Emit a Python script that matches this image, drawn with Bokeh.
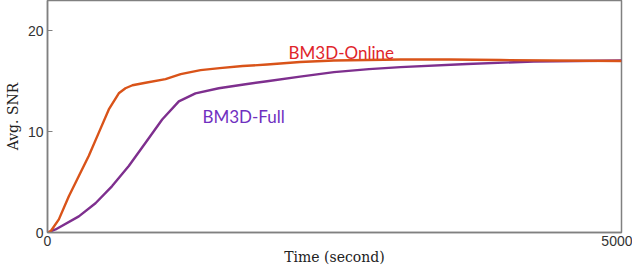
from bokeh.plotting import figure
from bokeh.embed import file_html
from bokeh.resources import INLINE
from bokeh.models import FixedTicker, Range1d
from bokeh.core.properties import value

online_t = [0, 26, 99, 186, 273, 360, 447, 534, 621, 679, 740, 854, 1028, 1160, 1333, 1500, 1700, 1913, 2200, 2495, 3075, 3500, 3946, 4382, 5000]
online_snr = [0, 0.1, 1.3, 3.6, 5.6, 7.6, 9.9, 12.2, 13.8, 14.3, 14.6, 14.85, 15.2, 15.7, 16.1, 16.3, 16.5, 16.65, 16.9, 17.05, 17.15, 17.15, 17.1, 17.05, 17.0]
full_t = [0, 70, 273, 418, 563, 708, 854, 999, 1144, 1289, 1492, 1725, 1913, 2200, 2495, 2800, 3075, 3656, 4234, 5000]
full_snr = [0, 0.3, 1.6, 2.9, 4.6, 6.6, 8.9, 11.2, 13.0, 13.8, 14.3, 14.7, 15.0, 15.45, 15.9, 16.2, 16.4, 16.7, 16.95, 17.05]
x_ticks = [0, 5000]
y_ticks = [0, 10, 20]
labels = ["BM3D-Online", "BM3D-Full"]

p = figure(width=632, height=267, output_backend="svg", toolbar_location=None,
           x_range=Range1d(0, 5000), y_range=Range1d(0, 23),
           min_border_left=47, min_border_right=11, min_border_top=0, min_border_bottom=34)
p.grid.visible = False
p.outline_line_color = "#808080"
p.outline_line_width = 1.5
p.background_fill_color = "white"
p.border_fill_color = "white"

p.line(full_t, full_snr, line_color="#7e2f8e", line_width=2.4, line_join="round")
p.line(online_t, online_snr, line_color="#d95319", line_width=2.4, line_join="round")

p.text(x=[2100], y=[17.8], text=[labels[0]], text_color="#e0252b", text_font=value("Lato"),
       text_font_size="17px", text_baseline="alphabetic")
p.text(x=[1350], y=[11.5], text=[labels[1]], text_color="#7030c0", text_font=value("Lato"),
       text_font_size="17px", text_baseline="alphabetic")

for ax in (p.xaxis[0], p.yaxis[0]):
    ax.axis_line_color = "#808080"
    ax.axis_line_width = 1.5
    ax.major_tick_in = 5
    ax.major_tick_out = 0
    ax.minor_tick_line_color = None
    ax.major_tick_line_color = "#808080"
    ax.major_label_text_font = "Liberation Sans"
    ax.major_label_text_font_size = "14px"
    ax.major_label_text_color = "#333333"
    ax.axis_label_text_font = "DejaVu Serif"
    ax.axis_label_text_font_style = "normal"
    ax.axis_label_text_font_size = "14px"
    ax.axis_label_text_color = "#222222"

p.xaxis.ticker = FixedTicker(ticks=x_ticks)
p.yaxis.ticker = FixedTicker(ticks=y_ticks)
p.xaxis.axis_label = "Time (second)"
p.yaxis.axis_label = "Avg. SNR"
p.xaxis.axis_label_standoff = 0
p.yaxis.axis_label_standoff = 4
p.xaxis.major_label_standoff = 3
p.yaxis.major_label_standoff = 4

open("out.html", "w").write(file_html(p, INLINE))
